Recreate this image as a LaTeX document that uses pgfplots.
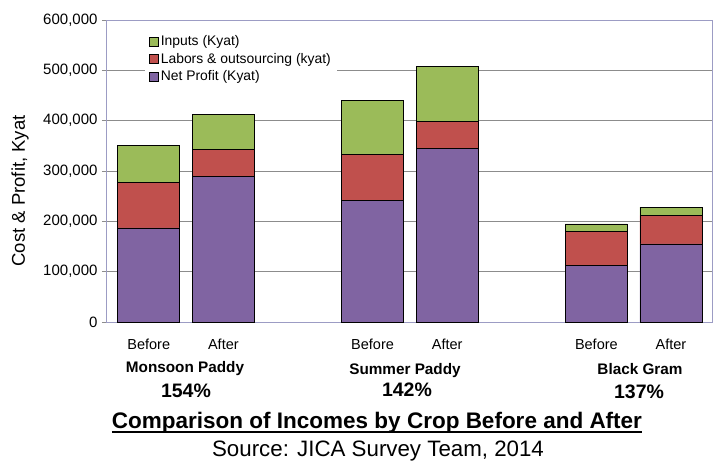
\documentclass[border=0pt]{standalone}
\usepackage{fontspec}
\setmainfont{Liberation Sans}
\usepackage{pgfplots}
\pgfplotsset{compat=1.18}
\usepackage{pgfplotstable}
\definecolor{cinp}{HTML}{9BBB59}
\definecolor{clab}{HTML}{C0504D}
\definecolor{cnet}{HTML}{8064A2}
\definecolor{gridc}{HTML}{8C8C8C}
\definecolor{framec}{HTML}{9C9CC4}

\pgfplotstableread{
x profit labor inputs
0 187000 91000 73000
1 290000 53000 70000
3 242000 91000 108000
4 345000 53000 109000
6 113000 67000 15000
7 155000 57000 16000
}\data

\begin{document}
\begin{tikzpicture}[x=1pt,y=1pt]
\begin{axis}[
  at={(0,0)}, anchor=south west,
  scale only axis, width=605pt, height=302pt,
  xmin=-0.56, xmax=7.55, ymin=0, ymax=600000,
  ybar stacked, bar width=62pt,
  xtick={0,1,3,4,6,7},
  xticklabels={Before,After,Before,After,Before,After},
  x tick style={draw=none},
  xticklabel style={font=\fontsize{14.5}{16}\selectfont, yshift=-8pt},
  ytick={0,100000,200000,300000,400000,500000,600000},
  ytick pos=left,
  tick align=outside,
  major tick length=5pt,
  y tick style={gridc, line width=0.8pt},
  scaled y ticks=false,
  /pgf/number format/assume math mode=true,
  yticklabel style={font=\fontsize{15}{17}\selectfont,
    /pgf/number format/fixed, /pgf/number format/1000 sep={,}, xshift=-1pt},
  ymajorgrids,
  major grid style={gridc, line width=0.8pt},
  axis line style={framec, line width=1pt},
  clip=false,
  reverse legend,
  legend style={at={(0.063,0.962)}, anchor=north west, draw=none, fill=white,
    font=\fontsize{13.9}{15}\selectfont, row sep=2pt, inner xsep=4pt, inner ysep=2pt,
    /tikz/every even column/.append style={column sep=2pt}},
  legend cell align=left,
  every axis plot post/.append style={
    legend image code/.code={\draw[##1,draw=black,line width=0.5pt] (0pt,-4.5pt) rectangle (9pt,4.5pt);}},
]
\addplot[fill=cnet, draw=black, line width=0.7pt] table[x=x, y=profit] {\data};
\addplot[fill=clab, draw=black, line width=0.7pt] table[x=x, y=labor] {\data};
\addplot[fill=cinp, draw=black, line width=0.7pt] table[x=x, y=inputs] {\data};
\legend{Net Profit (Kyat), Labors \& outsourcing (kyat), Inputs (Kyat)\hspace{22pt}}
\end{axis}
\node[rotate=90, font=\fontsize{18.5}{20}\selectfont] at (-87,131) {Cost \& Profit, Kyat};
\node[font=\bfseries\fontsize{15.3}{17}\selectfont] at (78,-47) {Monsoon Paddy};
\node[font=\bfseries\fontsize{19.5}{21}\selectfont] at (79,-69) {154\%};
\node[font=\bfseries\fontsize{15.3}{17}\selectfont] at (298,-49) {Summer Paddy};
\node[font=\bfseries\fontsize{19.5}{21}\selectfont] at (300,-68) {142\%};
\node[font=\bfseries\fontsize{15.3}{17}\selectfont] at (533,-47) {Black Gram};
\node[font=\bfseries\fontsize{19.5}{21}\selectfont] at (532,-70) {137\%};
\node[inner sep=0pt, font=\bfseries\fontsize{22.5}{25}\selectfont] (t) at (270,-101) {Comparison of Incomes by Crop Before and After};
\draw[line width=1.6pt] ([yshift=-3pt]t.base west) -- ([yshift=-3pt]t.base east);
\node[inner sep=0pt, font=\fontsize{22.3}{25}\selectfont] at (271,-129) {Source: JICA Survey Team, 2014};
\pgfresetboundingbox
\useasboundingbox (-107,-139) rectangle (608,322);
\end{tikzpicture}
\end{document}
